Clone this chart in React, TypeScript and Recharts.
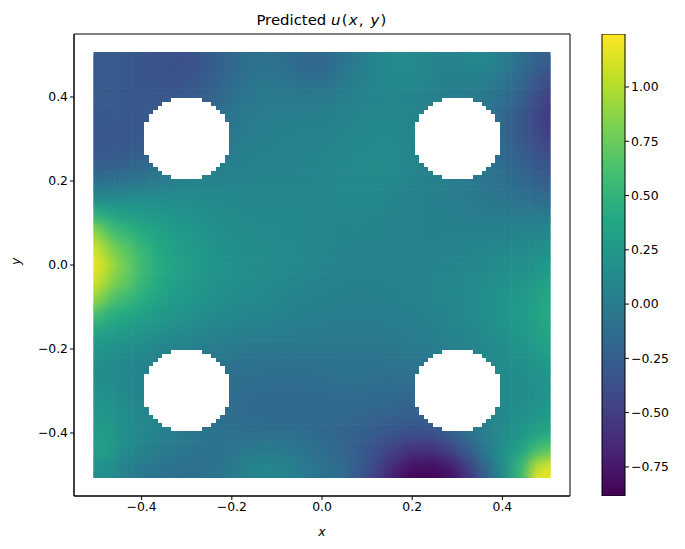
import React from "react";
import { ScatterChart, Scatter, XAxis, YAxis, ReferenceArea, BarChart, Bar, Label } from "recharts";

const gridX = [-.48,-.44,-.40,-.36,-.32,-.28,-.24,-.20,-.16,-.12,-.08,-.04,0,.04,.08,.12,.16,.20,.24,.28,.32,.36,.40,.44,.48];
const gridY = [.48,.44,.40,.36,.32,.28,.24,.20,.16,.12,.08,.04,0,-.04,-.08,-.12,-.16,-.20,-.24,-.28,-.32,-.36,-.40,-.44,-.48];
const field = [
[-.28,-.30,-.32,-.34,-.36,-.34,-.26,-.17,-.10,-.08,-.12,-.18,-.18,-.08,.0,.08,.12,.12,.08,.05,.08,.1,.02,-.1,-.24],
[-.28,-.30,-.32,-.33,-.33,-.3,-.23,-.14,-.07,-.04,-.07,-.10,-.10,-.03,.03,.08,.1,.1,.07,.03,.03,.03,-.05,-.16,-.32],
[-.27,-.29,-.30,-.30,-.30,-.27,-.2,-.1,-.04,-.01,-.02,-.03,-.02,.01,.05,.08,.09,.08,.05,.02,.0,-.03,-.09,-.23,-.38],
[-.28,-.30,-.30,-.28,-.25,-.2,-.12,-.05,-.01,.01,.02,.02,.03,.05,.07,.09,.09,.07,.05,.02,-.01,-.05,-.14,-.29,-.43],
[-.3,-.31,-.3,-.25,-.2,-.15,-.07,-.03,.01,.03,.04,.05,.05,.07,.09,.1,.1,.08,.05,.02,-.02,-.07,-.17,-.3,-.42],
[-.3,-.3,-.27,-.2,-.12,-.08,-.04,0,.03,.04,.05,.06,.07,.09,.11,.12,.12,.08,.05,.02,-.03,-.08,-.16,-.26,-.37],
[-.25,-.23,-.18,-.12,-.06,-.02,.01,.03,.05,.06,.06,.07,.08,.1,.12,.13,.12,.08,.04,.02,-.02,-.07,-.13,-.21,-.29],
[-.1,-.08,-.05,0,.03,.05,.06,.06,.07,.07,.07,.08,.09,.1,.11,.11,.1,.07,.04,.02,-.01,-.05,-.09,-.15,-.22],
[.1,.12,.13,.14,.14,.13,.11,.1,.09,.09,.09,.09,.09,.1,.1,.1,.08,.06,.04,.02,0,-.03,-.06,-.09,-.13],
[.38,.3,.27,.24,.2,.18,.15,.13,.11,.1,.1,.1,.09,.09,.09,.08,.07,.05,.04,.03,.02,0,-.02,-.02,-.01],
[.65,.52,.4,.32,.27,.23,.18,.15,.13,.12,.11,.1,.09,.08,.07,.07,.06,.05,.04,.04,.04,.04,.05,.06,.08],
[.88,.7,.52,.39,.31,.26,.2,.17,.15,.13,.12,.1,.09,.07,.06,.06,.05,.05,.05,.06,.07,.08,.1,.12,.14],
[1.02,.8,.57,.42,.33,.27,.22,.18,.15,.13,.12,.1,.08,.06,.05,.05,.05,.05,.06,.08,.09,.11,.14,.17,.2],
[.92,.74,.54,.4,.31,.26,.2,.17,.14,.12,.1,.08,.06,.05,.04,.04,.05,.06,.07,.09,.11,.14,.18,.22,.27],
[.7,.58,.44,.34,.27,.22,.17,.14,.12,.1,.08,.06,.04,.03,.03,.03,.04,.05,.07,.09,.12,.16,.21,.26,.32],
[.46,.4,.32,.26,.21,.17,.13,.1,.08,.07,.05,.03,.02,.01,.01,.01,.02,.03,.05,.08,.11,.16,.21,.27,.33],
[.3,.27,.23,.18,.13,.1,.06,.05,.03,.02,.01,0,-.01,-.01,-.01,-.01,0,.01,.03,.06,.09,.13,.19,.25,.31],
[.2,.17,.13,.08,.05,.03,0,-.02,-.03,-.03,-.04,-.04,-.04,-.04,-.04,-.04,-.03,-.02,0,.03,.07,.1,.15,.21,.27],
[.13,.1,.06,.02,-.01,-.03,-.06,-.08,-.08,-.09,-.09,-.09,-.08,-.07,-.07,-.07,-.07,-.06,-.03,.01,.05,.08,.13,.17,.22],
[.14,.1,.05,.01,-.02,-.05,-.09,-.11,-.12,-.13,-.13,-.13,-.12,-.11,-.1,-.11,-.12,-.12,-.08,-.02,.03,.07,.11,.15,.18],
[.19,.13,.08,.03,-.02,-.05,-.09,-.12,-.14,-.15,-.16,-.16,-.15,-.14,-.14,-.15,-.17,-.18,-.14,-.06,.0,.06,.11,.15,.18],
[.23,.16,.1,.05,0,-.04,-.08,-.12,-.14,-.15,-.15,-.16,-.16,-.17,-.18,-.2,-.23,-.25,-.22,-.14,-.05,.04,.11,.18,.23],
[.28,.17,.1,.05,.0,-.04,-.08,-.09,-.1,-.1,-.11,-.13,-.16,-.19,-.23,-.27,-.33,-.36,-.34,-.26,-.12,.02,.13,.23,.33],
[.3,.15,.07,.02,-.03,-.07,-.08,-.06,-.03,-.01,-.03,-.07,-.12,-.18,-.26,-.36,-.48,-.57,-.58,-.47,-.27,-.05,.18,.33,.58],
[.17,.07,-.02,-.06,-.09,-.1,-.08,-.03,.05,.08,.05,-.02,-.08,-.13,-.25,-.42,-.62,-.76,-.79,-.72,-.5,-.18,.15,.5,.98],
];
const edgeLeft = [-.28,-.28,-.27,-.29,-.31,-.31,-.27,-.12,.12,.5,.95,1.17,1.24,1.18,1.0,.65,.38,.24,.16,.17,.22,.26,.31,.33,.2];
const edgeRight = [-.27,-.4,-.5,-.56,-.53,-.44,-.36,-.27,-.16,-.02,.1,.2,.28,.36,.42,.44,.4,.34,.28,.23,.23,.3,.42,.72,1.15];
const edgeBottom = [.16,.05,-.04,-.08,-.1,-.1,-.07,-.02,.07,.1,.06,-.02,-.08,-.14,-.28,-.5,-.72,-.86,-.88,-.83,-.62,-.28,.1,.5,1.2];
const holeX = [-0.3, 0.3, -0.3, 0.3];
const holeY = [0.3, 0.3, -0.3, -0.3];
const xTicks = [-0.4, -0.2, 0, 0.2, 0.4];
const yTicks = [-0.4, -0.2, 0, 0.2, 0.4];
const barTicks = [-0.75, -0.5, -0.25, 0, 0.25, 0.5, 0.75, 1];
const colorMin = -0.884;
const colorMax = 1.244;
const viridis = ["#440154","#482576","#414487","#355f8d","#2a788e","#21918c","#22a884","#44bf70","#7ad151","#bddf26","#fde725"];

const cells = [
  ...gridY.flatMap((y, r) => gridX.map((x, c) => ({ x, y, v: field[r][c], edge: "" }))),
  ...gridY.map((y, r) => ({ x: -0.5, y, v: edgeLeft[r], edge: "left" })),
  ...gridY.map((y, r) => ({ x: 0.5, y, v: edgeRight[r], edge: "right" })),
  ...gridX.map((x, c) => ({ x, y: -0.5, v: edgeBottom[c], edge: "bottom" })),
];
const holes = holeX.map((x, i) => ({ x, y: holeY[i] }));
const barData = [{ name: "u", range: [colorMin, colorMax] }];

const hexToRgb = (h: string) => [1, 3, 5].map((i) => parseInt(h.slice(i, i + 2), 16));
function colorOf(v: number) {
  const t = Math.min(1, Math.max(0, (v - colorMin) / (colorMax - colorMin))) * (viridis.length - 1);
  const i = Math.min(viridis.length - 2, Math.floor(t));
  const a = hexToRgb(viridis[i]);
  const b = hexToRgb(viridis[i + 1]);
  const m = a.map((p, k) => Math.round(p + (b[k] - p) * (t - i)));
  return `rgb(${m[0]},${m[1]},${m[2]})`;
}

const CELL_W = 18.04;
const CELL_H = 16.8;
const EDGE = 3;
const STRIP = 4;
function CellShape(props: any) {
  const { cx, cy, payload } = props;
  const fill = colorOf(payload.v);
  if (payload.edge === "left") return <rect x={cx - EDGE} y={cy - CELL_H / 2 - 0.3} width={EDGE + STRIP} height={CELL_H + 0.6} fill={fill} />;
  if (payload.edge === "right") return <rect x={cx - STRIP} y={cy - CELL_H / 2 - 0.3} width={EDGE + STRIP} height={CELL_H + 0.6} fill={fill} />;
  if (payload.edge === "bottom") {
    const l = payload.x === gridX[0] ? EDGE : 0.3;
    const r = payload.x === gridX[gridX.length - 1] ? EDGE : 0.3;
    return <rect x={cx - CELL_W / 2 - l} y={cy - STRIP} width={CELL_W + l + r} height={EDGE + STRIP} fill={fill} />;
  }
  const left = cx - CELL_W / 2 - (payload.x === gridX[0] ? EDGE : 0.3);
  const right = cx + CELL_W / 2 + (payload.x === gridX[gridX.length - 1] ? EDGE : 0.3);
  const top = cy - CELL_H / 2 - (payload.y === gridY[0] ? EDGE : 0.3);
  const bottom = cy + CELL_H / 2 + (payload.y === gridY[gridY.length - 1] ? EDGE : 0.3);
  return <rect x={left} y={top} width={right - left} height={bottom - top} fill={fill} />;
}
const HOLE_BANDS = [-9.5,-8.5,-7.5,-6.5,-5.5,-4.5,-3.5,-2.5,-1.5,-0.5,0.5,1.5,2.5,3.5,4.5,5.5,6.5,7.5,8.5,9.5];
function HoleShape(props: any) {
  const { cx, cy } = props;
  return (
    <g fill="#ffffff" shapeRendering="crispEdges">
      {HOLE_BANDS.map((k) => {
        const w = 4.51 * Math.round(Math.sqrt(104 - k * k)) - 2.7;
        return <rect key={k} x={cx - w} y={cy - 0.5 + k * 4.02 - 2.01} width={2 * w} height={4.2} />;
      })}
    </g>
  );
}
const fmt = (d: number) => (v: number) => v.toFixed(d).replace("-", "\u2212");
const FONT = "'DejaVu Sans', sans-serif";
const tickStyle = { fontSize: 12.4, fontFamily: FONT, fill: "#000" };

export default function App() {
  return (
    <div style={{ position: "absolute", left: 0, top: 0, width: 685, height: 549, background: "#fff", fontFamily: FONT }}>
      <style>{`.field-layer{filter:url(#smooth)} body{margin:0}`}</style>
      <svg width={0} height={0} style={{ position: "absolute" }}>
        <defs>
          <filter id="smooth" x="-5%" y="-5%" width="110%" height="110%" colorInterpolationFilters="sRGB">
            <feGaussianBlur in="SourceGraphic" stdDeviation="6.5 6" result="b" />
            <feComponentTransfer in="b" result="o"><feFuncA type="linear" slope={100} /></feComponentTransfer>
            <feComposite in="o" in2="SourceAlpha" operator="in" />
          </filter>
          <linearGradient id="viridisBar" x1="0" y1="1" x2="0" y2="0">
            {viridis.map((c, i) => <stop key={c} offset={i / (viridis.length - 1)} stopColor={c} />)}
          </linearGradient>
        </defs>
      </svg>
      <div style={{ position: "absolute", left: 74, width: 496, top: 10, textAlign: "center", fontSize: 14.9, color: "#000", lineHeight: "20px" }}>
        Predicted <span style={{ letterSpacing: 1.2 }}><i>u</i>(<i>x</i>, <i>y</i>)</span>
      </div>
      <div style={{ position: "absolute", left: 0, top: 0 }}>
        <ScatterChart width={685} height={549} margin={{ left: 24, right: 115, top: 34, bottom: 23 }}>
          <XAxis type="number" dataKey="x" domain={[-0.55, 0.55]} ticks={xTicks} tickFormatter={fmt(1)} height={30}
            stroke="#000" tick={tickStyle} tickSize={4} allowDataOverflow>
            <Label value="x" position="insideBottom" offset={-10} style={{ ...tickStyle, fontStyle: "italic" }} />
          </XAxis>
          <YAxis type="number" dataKey="y" domain={[-0.55, 0.55]} ticks={yTicks} tickFormatter={fmt(1)} width={50}
            stroke="#000" tick={tickStyle} tickSize={4} allowDataOverflow>
            <Label value="y" angle={-90} position="insideLeft" offset={-8} style={{ ...tickStyle, fontStyle: "italic" }} />
          </YAxis>
          <Scatter data={cells} shape={CellShape} className="field-layer" isAnimationActive={false} />
          <Scatter data={holes} shape={HoleShape} isAnimationActive={false} />
          <ReferenceArea x1={-0.55} x2={0.55} y1={-0.55} y2={0.55} fill="none" stroke="#000" strokeWidth={1} fillOpacity={0} />
        </ScatterChart>
      </div>
      <div style={{ position: "absolute", left: 592, top: 0 }}>
        <BarChart width={93} height={549} data={barData} barCategoryGap={0} margin={{ left: 10, right: 10, top: 34, bottom: 53 }}>
          <XAxis dataKey="name" hide />
          <YAxis orientation="right" type="number" domain={[colorMin, colorMax]} ticks={barTicks} tickFormatter={fmt(2)} width={50}
            stroke="#000" tick={{ ...tickStyle, textAnchor: "start" }} tickSize={4} axisLine={false} interval={0} allowDataOverflow />
          <Bar dataKey="range" fill="url(#viridisBar)" stroke="#000" strokeWidth={1} isAnimationActive={false} />
        </BarChart>
      </div>
    </div>
  );
}
